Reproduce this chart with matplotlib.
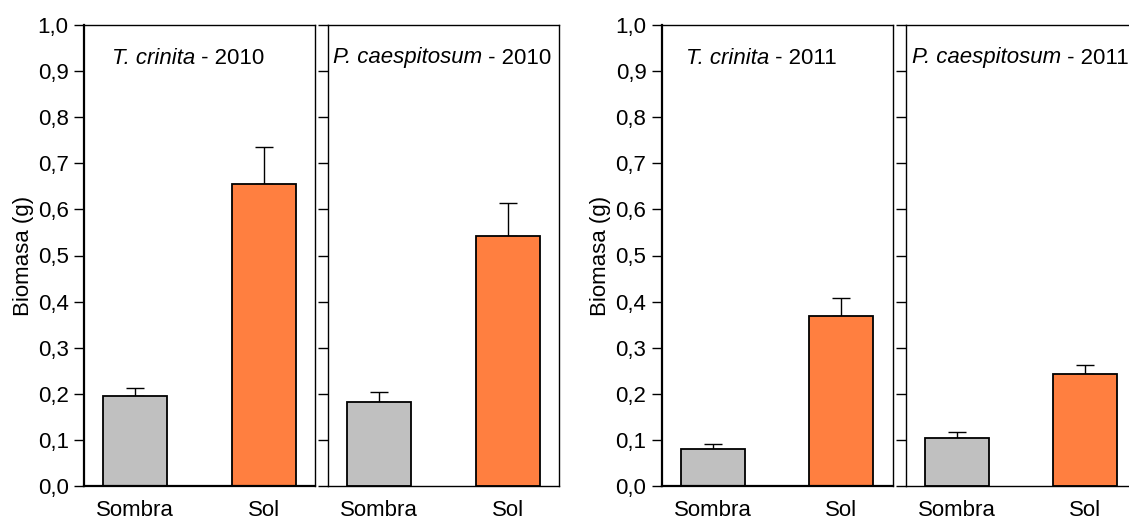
import matplotlib
matplotlib.use("Agg")
import matplotlib.pyplot as plt
from matplotlib.ticker import FuncFormatter
from matplotlib.transforms import offset_copy

plt.rcParams['font.family'] = ['Liberation Sans', 'DejaVu Sans']

categories = ["Sombra", "Sol"]
species = ["T. crinita", "P. caespitosum", "T. crinita", "P. caespitosum"]
years = ["2010", "2010", "2011", "2011"]
means = [
    [0.195, 0.656],
    [0.182, 0.542],
    [0.080, 0.369],
    [0.104, 0.243],
]
errors = [
    [0.018, 0.080],
    [0.021, 0.072],
    [0.011, 0.039],
    [0.013, 0.019],
]
yticks = [0.0, 0.1, 0.2, 0.3, 0.4, 0.5, 0.6, 0.7, 0.8, 0.9, 1.0]
bar_colors = ["#c0c0c0", "#ff7f40"]

W, H = 1129, 521
fig = plt.figure(figsize=(W / 100, H / 100), dpi=100)

lefts = [84, 328, 661.7, 905.7]
title_offsets = [28, 5, 24, 6]
aw, ah = 231, 461
bottom = 35
FS = 16

titles = []
for i in range(4):
    ax = fig.add_axes([lefts[i] / W, bottom / H, aw / W, ah / H])
    x = range(len(categories))
    ax.bar(x, means[i], width=0.5, color=bar_colors, edgecolor="black",
           linewidth=1.3, zorder=2)
    ax.errorbar(x, means[i], yerr=[[0, 0], errors[i]], fmt="none",
                ecolor="black", elinewidth=1.0, capsize=6.5, capthick=1.0,
                zorder=1)
    ax.set_xlim(-0.4, 1.4)
    ax.set_ylim(0, 1.0)
    ax.set_yticks(yticks)
    ax.set_xticks(list(x))
    ax.set_xticklabels(categories, fontsize=FS)
    ax.tick_params(axis="x", length=0, pad=10)
    ax.tick_params(axis="y", direction="out", length=7, width=1.0,
                   labelsize=FS, pad=4)
    for s in ax.spines.values():
        s.set_linewidth(1.0)
    if i % 2 == 0:
        ax.yaxis.set_major_formatter(
            FuncFormatter(lambda v, p: f"{v:.1f}".replace(".", ",")))
        ax.set_ylabel("Biomasa (g)", fontsize=FS, labelpad=3)
        ax.spines["left"].set_linewidth(1.6)
        ax.spines["bottom"].set_linewidth(1.6)
    else:
        ax.set_yticklabels([])
    t = ax.text(title_offsets[i] / aw, 1 - 33 / ah, species[i],
                transform=ax.transAxes, fontsize=FS, va="center", ha="left",
                style="italic")
    titles.append((ax, t, years[i]))

fig.canvas.draw()
r = fig.canvas.get_renderer()
for ax, t, yr in titles:
    w = t.get_window_extent(renderer=r).width
    tr = offset_copy(t.get_transform(), fig=fig, x=w * 72 / fig.dpi, units="points")
    ax.text(*t.get_position(), " - " + yr, transform=tr, fontsize=FS,
            va="center", ha="left")

fig.savefig("out.png", dpi=100)
